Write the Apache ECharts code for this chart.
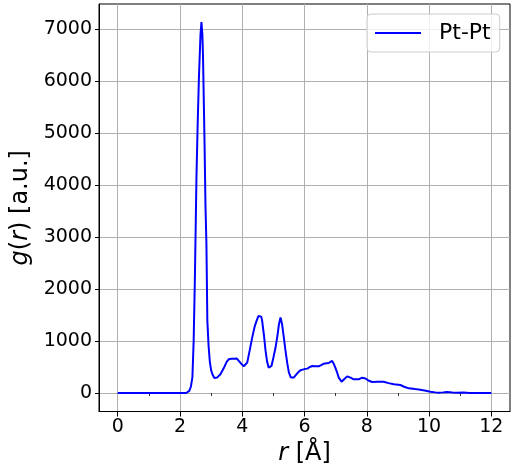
<!DOCTYPE html>
<html>
<head>
<meta charset="utf-8">
<script src="https://cdn.jsdelivr.net/npm/echarts@6/dist/echarts.min.js"></script>
<style>html,body{margin:0;padding:0;background:#fff;}#c{width:516px;height:468px;}</style>
</head>
<body>
<div id="c"></div>
<script>
const seriesName = 'Pt-Pt';
const rValues = [0, 0.5, 1, 1.5, 2, 2.2, 2.25, 2.3, 2.35, 2.4, 2.44, 2.48, 2.53, 2.57, 2.61, 2.66, 2.69, 2.72, 2.74, 2.79, 2.82, 2.85, 2.88, 2.92, 2.96, 3.0, 3.04, 3.1, 3.14, 3.2, 3.3, 3.4, 3.5, 3.57, 3.65, 3.75, 3.82, 3.89, 3.97, 4.05, 4.11, 4.16, 4.24, 4.32, 4.4, 4.46, 4.52, 4.57, 4.61, 4.64, 4.7, 4.75, 4.8, 4.85, 4.94, 5.0, 5.07, 5.13, 5.18, 5.23, 5.28, 5.34, 5.39, 5.45, 5.5, 5.56, 5.6, 5.66, 5.71, 5.8, 5.87, 6.0, 6.09, 6.17, 6.25, 6.35, 6.46, 6.55, 6.62, 6.7, 6.78, 6.84, 6.89, 6.94, 6.99, 7.05, 7.1, 7.19, 7.28, 7.37, 7.48, 7.58, 7.64, 7.74, 7.85, 7.96, 8.05, 8.17, 8.35, 8.54, 8.7, 8.87, 9.08, 9.2, 9.35, 9.55, 9.72, 9.9, 10.04, 10.2, 10.31, 10.45, 10.58, 10.75, 10.9, 11.1, 11.3, 11.6, 12.0];
const gValues = [0, 0, 0, 0, 0, 0, 10, 40, 120, 300, 1000, 2220, 4150, 5200, 6080, 6900, 7140, 6900, 6500, 4800, 3600, 2870, 1390, 900, 600, 440, 366, 290, 270, 300, 360, 470, 600, 650, 660, 660, 665, 617, 560, 514, 540, 585, 820, 1066, 1280, 1388, 1480, 1517, 1470, 1388, 1100, 810, 600, 488, 520, 680, 874, 1100, 1325, 1452, 1325, 1050, 810, 560, 391, 300, 276, 300, 328, 400, 437, 460, 469, 500, 520, 515, 514, 540, 565, 572, 578, 600, 617, 560, 488, 390, 295, 218, 270, 320, 295, 264, 250, 264, 295, 280, 240, 212, 215, 218, 190, 167, 154, 120, 90, 75, 64, 45, 26, 12, 6, 12, 19, 10, 6, 10, 0, 0, 0];
const xTicks = [0, 2, 4, 6, 8, 10, 12];
const xMinorTicks = [1, 3, 5, 7, 9, 11];
const yTicks = [0, 1000, 2000, 3000, 4000, 5000, 6000, 7000];

const FONT = 'DejaVu Sans';
const FS = 19;      // tick labels
const FS_NAME = 24; // axis titles
const FS_LEG = 22;  // legend
const points = rValues.map((r, i) => [r, gValues[i]]);

const chart = echarts.init(document.getElementById('c'), null, {renderer: 'canvas'});
chart.setOption({
  animation: false,
  backgroundColor: '#ffffff',
  textStyle: {fontFamily: FONT},
  grid: {left: 99, right: 6, top: 4, bottom: 56.5, show: true, borderColor: '#000', borderWidth: 1, backgroundColor: 'transparent', containLabel: false, outerBoundsMode: 'none'},
  legend: {
    left: 367, top: 14,
    padding: [8, 9, 8, 8],
    itemWidth: 46, itemHeight: 2,
    borderColor: '#cccccc', borderWidth: 1, borderRadius: 4,
    backgroundColor: 'rgba(255,255,255,0.8)',
    data: [{name: seriesName, icon: 'rect'}],
    textStyle: {fontFamily: FONT, fontSize: FS_LEG, color: '#000', padding: [0, 0, 0, 13]}
  },
  xAxis: [{
    type: 'value', min: -0.6, max: 12.6,
    name: '{i|r} [Å]', nameLocation: 'middle', nameGap: 30,
    nameTextStyle: {fontFamily: FONT, fontSize: FS_NAME, color: '#000', rich: {i: {fontStyle: 'italic', fontFamily: FONT, fontSize: FS_NAME}}},
    axisLine: {show: true, onZero: false, lineStyle: {color: '#000', width: 1}},
    axisTick: {show: true, length: 5, lineStyle: {color: '#000', width: 1}, customValues: xTicks},
    axisLabel: {show: true, margin: 6, fontFamily: FONT, fontSize: FS, color: '#000', customValues: xTicks, formatter: v => String(v)},
    splitLine: {show: true, lineStyle: {color: '#b0b0b0', width: 1}}
  }, {
    type: 'value', min: -0.6, max: 12.6, position: 'bottom',
    axisLine: {show: false},
    axisTick: {show: true, length: 3, lineStyle: {color: '#000', width: 0.8}, customValues: xMinorTicks},
    axisLabel: {show: false},
    splitLine: {show: false}
  }],
  yAxis: {
    type: 'value', min: -356, max: 7486,
    name: '{i|g}({i|r}) [a.u.]', nameLocation: 'middle', nameRotate: 90, nameGap: 44,
    nameTextStyle: {fontFamily: FONT, fontSize: FS_NAME, color: '#000', rich: {i: {fontStyle: 'italic', fontFamily: FONT, fontSize: FS_NAME}}},
    axisLine: {show: true, onZero: false, lineStyle: {color: '#000', width: 1}},
    axisTick: {show: true, length: 4, lineStyle: {color: '#000', width: 1}, customValues: yTicks},
    axisLabel: {show: true, margin: 7, fontFamily: FONT, fontSize: FS, color: '#000', customValues: yTicks, formatter: v => String(v)},
    splitLine: {show: true, lineStyle: {color: '#b0b0b0', width: 1}}
  },
  series: [{
    name: seriesName, type: 'line', xAxisIndex: 0, data: points,
    showSymbol: false, symbol: 'none', smooth: false,
    lineStyle: {color: '#0000ff', width: 2},
    itemStyle: {color: '#0000ff'}
  }]
});
</script>
</body>
</html>
